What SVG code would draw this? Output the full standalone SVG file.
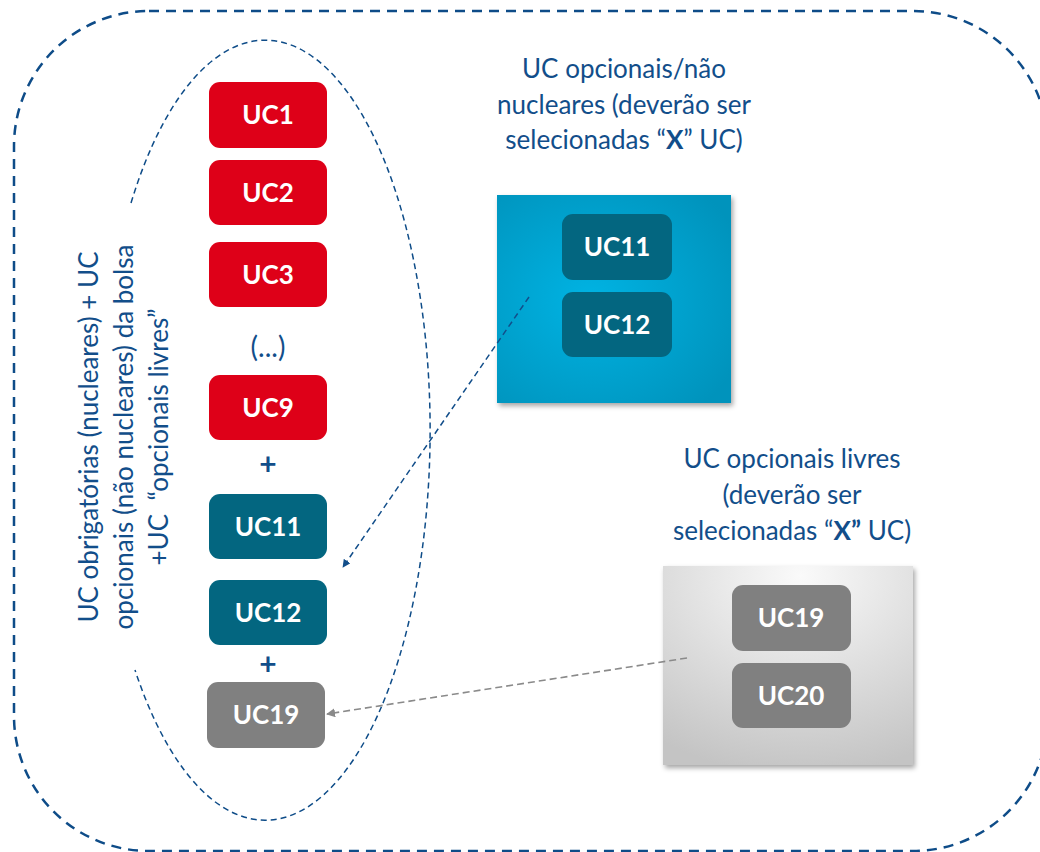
<svg xmlns="http://www.w3.org/2000/svg" width="1040" height="852" viewBox="0 0 1040 852">
  <defs>
    <style>
      .lbl { font-family: Lato, "Open Sans", "Liberation Sans", sans-serif; font-size: 26px; fill: #124E8A; }
      .box-t { font-family: Lato, "Open Sans", "Liberation Sans", sans-serif; font-size: 26px; font-weight: bold; fill: #FFFFFF; text-anchor: middle; }
      .plus { font-family: Lato, "Open Sans", "Liberation Sans", sans-serif; font-size: 30px; font-weight: bold; fill: #124E8A; text-anchor: middle; }
      .red { fill: #DE0018; }
      .teal { fill: #036680; }
      .gray { fill: #808080; }
      .outer { fill: none; stroke: #0E4C88; stroke-width: 2.5; stroke-dasharray: 10 7; }
      .inner { fill: none; stroke: #0E4C88; stroke-width: 1.5; stroke-dasharray: 6 4; }
      .conn-blue { fill: none; stroke: #124E8A; stroke-width: 1.5; stroke-dasharray: 6 4; }
      .conn-gray { fill: none; stroke: #8A8A8A; stroke-width: 1.6; stroke-dasharray: 7 4; }
    </style>
    <radialGradient id="tealGrad" cx="0.4" cy="0.5" r="0.7">
      <stop offset="0" stop-color="#00B3E3"/>
      <stop offset="1" stop-color="#0093BC"/>
    </radialGradient>
    <radialGradient id="grayGrad" cx="0.55" cy="0.05" r="1.0">
      <stop offset="0" stop-color="#FAFAFA"/>
      <stop offset="1" stop-color="#C4C4C4"/>
    </radialGradient>
    <filter id="shadow" x="-10%" y="-10%" width="125%" height="125%">
      <feDropShadow dx="2" dy="3" stdDeviation="2.5" flood-color="#000" flood-opacity="0.35"/>
    </filter>
    <marker id="arrowBlue" viewBox="0 0 10 10" refX="9" refY="5" markerWidth="8" markerHeight="8" markerUnits="userSpaceOnUse" orient="auto">
      <path d="M0,0 L10,5 L0,10 z" fill="#124E8A"/>
    </marker>
    <marker id="arrowGray" viewBox="0 0 10 10" refX="9" refY="5" markerWidth="9" markerHeight="9" markerUnits="userSpaceOnUse" orient="auto">
      <path d="M0,0 L10,5 L0,10 z" fill="#8A8A8A"/>
    </marker>
  </defs>

  <rect width="1040" height="852" fill="#FFFFFF"/>

  <!-- outer dashed boundary -->
  <rect id="outer" class="outer" x="14" y="11" width="1034" height="840" rx="135" ry="135"/>

  <!-- inner dashed ellipse (open on the left where the label sits) -->
  <path id="ellipse" class="inner" d="M131,203 A165,390 0 1 1 135,670"/>

  <!-- rotated label on the left -->
  <g id="left-label" transform="translate(0,437) rotate(-90)">
    <text class="lbl" text-anchor="middle" x="0" y="98">UC obrigatórias (nucleares) + UC</text>
    <text class="lbl" text-anchor="middle" x="0" y="133">opcionais (não nucleares) da bolsa</text>
    <text class="lbl" text-anchor="middle" x="0" y="168">+UC&#160;&#160;“opcionais livres”</text>
  </g>

  <!-- left column -->
  <g id="uc1"><rect class="red" x="209" y="82" width="118" height="66" rx="11"/><text class="box-t" x="268" y="124">UC1</text></g>
  <g id="uc2"><rect class="red" x="209" y="160" width="118" height="65" rx="11"/><text class="box-t" x="268" y="202">UC2</text></g>
  <g id="uc3"><rect class="red" x="209" y="242" width="118" height="65" rx="11"/><text class="box-t" x="268" y="284">UC3</text></g>
  <g id="ellipsis"><text class="lbl" text-anchor="middle" x="268" y="357" style="font-size:28px">(...)</text></g>
  <g id="uc9"><rect class="red" x="209" y="375" width="118" height="65" rx="11"/><text class="box-t" x="268" y="417">UC9</text></g>
  <g id="plus1"><text class="plus" x="268" y="475">+</text></g>
  <g id="uc11-left"><rect class="teal" x="209" y="494" width="118" height="65" rx="11"/><text class="box-t" x="268" y="536">UC11</text></g>
  <g id="uc12-left"><rect class="teal" x="209" y="580" width="118" height="65" rx="11"/><text class="box-t" x="268" y="622">UC12</text></g>
  <g id="plus2"><text class="plus" x="268" y="675">+</text></g>
  <g id="uc19-left"><rect class="gray" x="207" y="682" width="118" height="66" rx="11"/><text class="box-t" x="266" y="724">UC19</text></g>

  <!-- top-right group: opcionais / não nucleares -->
  <g id="title-nuc">
    <text class="lbl" text-anchor="middle" x="624" y="78">UC opcionais/não</text>
    <text class="lbl" text-anchor="middle" x="624" y="114">nucleares (deverão ser</text>
    <text class="lbl" text-anchor="middle" x="624" y="149">selecionadas “<tspan font-weight="bold">X</tspan>” UC)</text>
  </g>
  <g id="panel-nuc">
    <rect x="497" y="195" width="234" height="208" fill="url(#tealGrad)" filter="url(#shadow)"/>
  </g>
  <g id="uc11-right"><rect class="teal" x="562" y="214" width="110" height="66" rx="11"/><text class="box-t" x="617" y="256">UC11</text></g>
  <g id="uc12-right"><rect class="teal" x="562" y="292" width="110" height="65" rx="11"/><text class="box-t" x="617" y="334">UC12</text></g>

  <!-- bottom-right group: opcionais livres -->
  <g id="title-livres">
    <text class="lbl" text-anchor="middle" x="792" y="468">UC opcionais livres</text>
    <text class="lbl" text-anchor="middle" x="792" y="504">(deverão ser</text>
    <text class="lbl" text-anchor="middle" x="792" y="540">selecionadas “<tspan font-weight="bold">X”</tspan> UC)</text>
  </g>
  <g id="panel-livres">
    <rect x="663" y="566" width="250" height="199" fill="url(#grayGrad)" filter="url(#shadow)"/>
  </g>
  <g id="uc19-right"><rect class="gray" x="732" y="585" width="119" height="66" rx="11"/><text class="box-t" x="791" y="627">UC19</text></g>
  <g id="uc20-right"><rect class="gray" x="732" y="663" width="119" height="65" rx="11"/><text class="box-t" x="791" y="705">UC20</text></g>

  <!-- connectors -->
  <g id="connectors">
    <line class="conn-blue" x1="529" y1="297" x2="343" y2="567" marker-end="url(#arrowBlue)"/>
    <line class="conn-gray" x1="687" y1="658" x2="327" y2="714" marker-end="url(#arrowGray)"/>
  </g>
</svg>
